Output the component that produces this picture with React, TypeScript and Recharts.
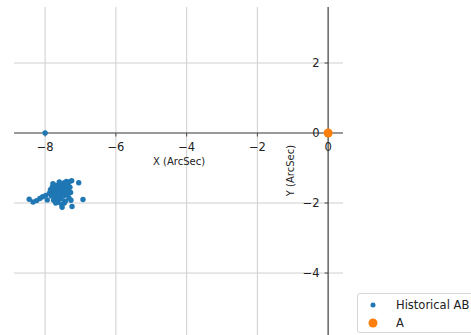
import {
  ReferenceLine,
  Scatter,
  ScatterChart,
  XAxis,
  YAxis,
} from 'recharts'

// Axes cross at the origin (matplotlib "spines at zero" look), so the
// tick labels are drawn as labels on tiny reference segments.
const xTicks = [-8, -6, -4, -2, 0]
const yTicks = [-4, -2, 0, 2]
const xDomain: [number, number] = [-8.88, 0.42]
const yDomain: [number, number] = [-5.77, 3.6]

// historical positions (ArcSec)
const historical = [
  { x: -8.0, y: 0.0 },
  { x: -8.45, y: -1.89 },
  { x: -8.34, y: -1.97 },
  { x: -8.24, y: -1.93 },
  { x: -8.15, y: -1.87 },
  { x: -8.07, y: -1.82 },
  { x: -7.98, y: -1.78 },
  { x: -7.94, y: -1.91 },
  { x: -7.88, y: -1.72 },
  { x: -7.85, y: -1.62 },
  { x: -7.82, y: -1.8 },
  { x: -7.8, y: -1.55 },
  { x: -7.78, y: -1.68 },
  { x: -7.76, y: -1.92 },
  { x: -7.74, y: -1.6 },
  { x: -7.72, y: -1.75 },
  { x: -7.7, y: -1.5 },
  { x: -7.68, y: -1.85 },
  { x: -7.66, y: -1.66 },
  { x: -7.64, y: -1.98 },
  { x: -7.62, y: -1.58 },
  { x: -7.6, y: -1.78 },
  { x: -7.58, y: -1.46 },
  { x: -7.57, y: -1.7 },
  { x: -7.55, y: -1.88 },
  { x: -7.53, y: -2.05 },
  { x: -7.52, y: -1.62 },
  { x: -7.5, y: -1.52 },
  { x: -7.48, y: -1.8 },
  { x: -7.46, y: -1.42 },
  { x: -7.45, y: -1.68 },
  { x: -7.43, y: -1.95 },
  { x: -7.42, y: -1.55 },
  { x: -7.4, y: -1.38 },
  { x: -7.38, y: -1.75 },
  { x: -7.36, y: -1.48 },
  { x: -7.35, y: -1.62 },
  { x: -7.33, y: -1.85 },
  { x: -7.32, y: -1.4 },
  { x: -7.3, y: -1.55 },
  { x: -7.28, y: -1.7 },
  { x: -7.25, y: -1.36 },
  { x: -7.46, y: -2.0 },
  { x: -7.52, y: -2.12 },
  { x: -7.24, y: -2.1 },
  { x: -7.27, y: -1.92 },
  { x: -7.62, y: -1.9 },
  { x: -7.7, y: -2.0 },
  { x: -7.05, y: -1.42 },
  { x: -6.93, y: -1.9 },
  { x: -7.78, y: -1.45 },
  { x: -7.6, y: -1.4 },
  { x: -7.66, y: -1.82 },
  { x: -7.55, y: -1.56 },
  { x: -7.48, y: -1.6 },
  { x: -7.4, y: -1.65 },
]
const current = [{ x: 0, y: 0 }]

const BLUE = '#1f77b4'
const ORANGE = '#ff7f0e'
const SPINE = '#4a4a4a'
const GRID = '#cfcfcf'
const FONT = 'DejaVu Sans'
const fmt = (v: number) => (v < 0 ? `\u2212${Math.abs(v)}` : `${v}`)

function LegendBox() {
  const row = { display: 'flex', alignItems: 'center', height: 18 }
  return (
    <div
      style={{
        position: 'absolute',
        left: 357,
        top: 293,
        width: 140,
        height: 40,
        border: '1px solid #d6d6d6',
        borderRadius: 3,
        background: '#fff',
        fontFamily: FONT,
        fontSize: 11.5,
        color: '#222',
        paddingTop: 2,
        boxSizing: 'border-box',
        whiteSpace: 'nowrap',
      }}
    >
      <div style={row}>
        <svg width={38} height={18}>
          <circle cx={15} cy={9} r={2.5} fill={BLUE} />
        </svg>
        <span>Historical AB</span>
      </div>
      <div style={row}>
        <svg width={38} height={18}>
          <circle cx={15} cy={9} r={4.5} fill={ORANGE} />
        </svg>
        <span>A</span>
      </div>
    </div>
  )
}

export default function App() {
  return (
    <div
      style={{
        position: 'absolute',
        left: 0,
        top: 0,
        width: 471,
        height: 335,
        overflow: 'hidden',
        background: '#fff',
      }}
    >
      <ScatterChart width={471} height={335} margin={{ top: 7, right: 128, bottom: 0, left: 14 }}>
        <XAxis
          type="number"
          dataKey="x"
          domain={xDomain}
          ticks={xTicks}
          allowDataOverflow
          height={0}
          tick={false}
          axisLine={false}
          tickLine={false}
        />
        <YAxis
          type="number"
          dataKey="y"
          domain={yDomain}
          ticks={yTicks}
          allowDataOverflow
          width={0}
          tick={false}
          axisLine={false}
          tickLine={false}
        />
        {/* grid */}
        {xTicks.map((t) => (
          <ReferenceLine key={`gx${t}`} x={t} stroke={GRID} strokeWidth={1} />
        ))}
        {yTicks.map((t) => (
          <ReferenceLine key={`gy${t}`} y={t} stroke={GRID} strokeWidth={1} />
        ))}
        {/* spines through the origin */}
        <ReferenceLine y={0} stroke={SPINE} strokeWidth={1.2} />
        <ReferenceLine x={0} stroke={SPINE} strokeWidth={1.2} />
        {xTicks.map((t) => (
          <ReferenceLine
            key={`xt${t}`}
            segment={[
              { x: t, y: 0 },
              { x: t, y: -0.1 },
            ]}
            stroke={SPINE}
            strokeWidth={1}
            label={{
              value: fmt(t),
              position: 'bottom',
              offset: 6,
              fill: '#222',
              fontSize: 11.5,
              fontFamily: FONT,
            }}
          />
        ))}
        {yTicks.map((t) => (
          <ReferenceLine
            key={`yt${t}`}
            segment={[
              { x: -0.1, y: t },
              { x: 0, y: t },
            ]}
            stroke={SPINE}
            strokeWidth={1}
            label={{
              value: fmt(t),
              position: 'left',
              offset: 5,
              fill: '#222',
              fontSize: 11.5,
              fontFamily: FONT,
            }}
          />
        ))}
        <Scatter
          name="Historical AB"
          data={historical}
          fill={BLUE}
          isAnimationActive={false}
          shape={(p: any) => <circle cx={p.cx} cy={p.cy} r={2.7} fill={BLUE} />}
        />
        <Scatter
          name="A"
          data={current}
          fill={ORANGE}
          isAnimationActive={false}
          shape={(p: any) => <circle cx={p.cx} cy={p.cy} r={4.5} fill={ORANGE} />}
        />
      </ScatterChart>
      <LegendBox />
      <div
        style={{
          position: 'absolute',
          left: 128,
          width: 102,
          top: 156,
          textAlign: 'center',
          fontFamily: FONT,
          fontSize: 10,
          color: '#222',
        }}
      >
        X (ArcSec)
      </div>
      <div
        style={{
          position: 'absolute',
          left: 240,
          width: 100,
          top: 165,
          textAlign: 'center',
          fontFamily: FONT,
          fontSize: 10,
          color: '#222',
          transform: 'rotate(-90deg)',
        }}
      >
        Y (ArcSec)
      </div>
    </div>
  )
}
